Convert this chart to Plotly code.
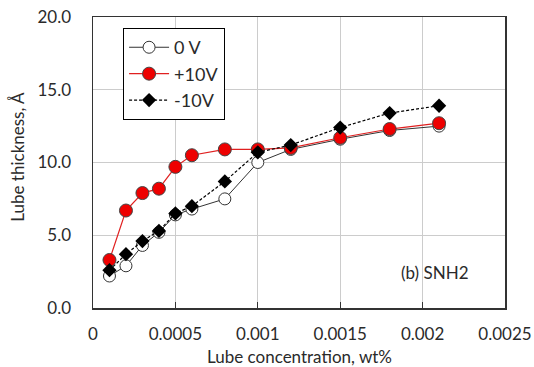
import plotly.graph_objects as go

conc = [0.0001, 0.0002, 0.0003, 0.0004, 0.0005, 0.0006, 0.0008, 0.001, 0.0012, 0.0015, 0.0018, 0.0021]
v0 = [2.2, 2.9, 4.3, 5.2, 6.4, 6.8, 7.5, 10.0, 10.9, 11.6, 12.2, 12.5]
vplus10 = [3.3, 6.7, 7.9, 8.2, 9.7, 10.5, 10.9, 10.9, 11.0, 11.7, 12.3, 12.7]
vminus10 = [2.6, 3.7, 4.6, 5.3, 6.5, 7.0, 8.7, 10.7, 11.2, 12.4, 13.4, 13.9]

x_ticks = [0, 0.0005, 0.001, 0.0015, 0.002, 0.0025]
x_tick_labels = ["0", "0.0005", "0.001", "0.0015", "0.002", "0.0025"]
y_ticks = [0, 5, 10, 15, 20]
y_tick_labels = ["0.0", "5.0", "10.0", "15.0", "20.0"]

FONT = "Lato, 'Open Sans', sans-serif"
TXT = "#2a2a2a"

fig = go.Figure()
fig.add_trace(go.Scatter(
    x=conc, y=v0, name="0 V", mode="lines+markers",
    line=dict(color="#333333", width=1),
    marker=dict(symbol="circle", size=12, color="white", line=dict(color="#333333", width=1)),
))
fig.add_trace(go.Scatter(
    x=conc, y=vplus10, name="+10V", mode="lines+markers",
    line=dict(color="#e02020", width=1.2),
    marker=dict(symbol="circle", size=13, color="#ee0000", line=dict(color="#444444", width=1)),
))
fig.add_trace(go.Scatter(
    x=conc, y=vminus10, name="-10V", mode="lines+markers",
    line=dict(color="black", width=1.2, dash="3px,2px"),
    marker=dict(symbol="diamond", size=11, color="black", line=dict(color="black", width=0)),
))

fig.add_annotation(
    x=0.002075, y=2.47, xref="x", yref="y", text="(b) SNH2", showarrow=False,
    font=dict(family=FONT, size=17, color=TXT),
)
# axis titles
fig.add_annotation(
    x=0.5, y=-0.165, xref="paper", yref="paper", text="Lube concentration, wt%",
    showarrow=False, xanchor="center", yanchor="middle",
    font=dict(family=FONT, size=17, color=TXT),
)
fig.add_annotation(
    x=-0.182, y=0.52, xref="paper", yref="paper", text="Lube thickness, Å",
    showarrow=False, textangle=-90, xanchor="center", yanchor="middle",
    font=dict(family=FONT, size=17, color=TXT),
)

fig.update_layout(
    width=534, height=367,
    margin=dict(l=93, r=29, t=17, b=59, autoexpand=False),
    paper_bgcolor="white", plot_bgcolor="white",
    font=dict(family=FONT, size=17, color=TXT),
    showlegend=True,
    legend=dict(
        x=0.073, y=0.962, xanchor="left", yanchor="top",
        bordercolor="black", borderwidth=1, bgcolor="white",
        font=dict(family=FONT, size=18, color=TXT),
        itemwidth=40, tracegroupgap=5,
    ),
    xaxis=dict(
        range=[0, 0.0025], tickvals=x_ticks, ticktext=x_tick_labels,
        showgrid=True, gridcolor="#cccccc", gridwidth=1,
        showline=True, linecolor="#333333", linewidth=1.5, mirror=True,
        ticks="inside", ticklen=6, tickcolor="#333333", tickwidth=1,
        ticklabelstandoff=10, automargin=False,
        zeroline=False,
    ),
    yaxis=dict(
        range=[0, 20], tickvals=y_ticks, ticktext=y_tick_labels,
        showgrid=True, gridcolor="#cccccc", gridwidth=1,
        showline=True, linecolor="#333333", linewidth=1.5, mirror=True,
        ticks="", zeroline=False, automargin=False,
        ticklabelstandoff=17,
    ),
)

fig.write_html(
    "out.html",
    config={"displayModeBar": False, "staticPlot": True},
    post_script="document.body.style.margin='0';document.body.style.overflow='hidden';",
)
